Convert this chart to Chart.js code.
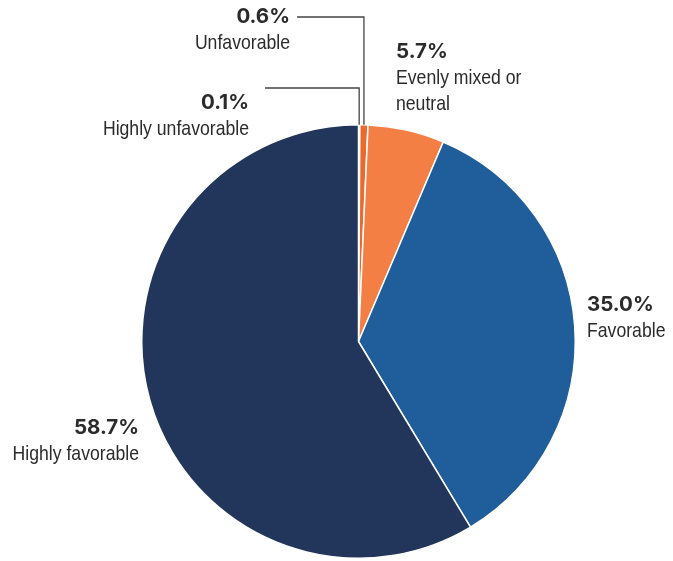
<!DOCTYPE html>
<html>
<head>
<meta charset="utf-8">
<script src="https://cdn.jsdelivr.net/npm/chart.js@4/dist/chart.umd.min.js"></script>
<style>
  html, body { margin: 0; padding: 0; background: #ffffff; }
  #wrap { width: 673px; height: 561px; position: relative; }
</style>
</head>
<body>
<div id="wrap"><canvas id="chart" width="673" height="561"></canvas></div>
<script>
// Sentiment shares, clockwise from 12 o'clock
const categories = ['Highly unfavorable', 'Unfavorable', 'Evenly mixed or neutral', 'Favorable', 'Highly favorable'];
const shares = [0.1, 0.6, 5.7, 35.0, 58.7];
const sliceColors = ['#e0469b', '#ea6a2e', '#f47f45', '#1f5e9b', '#22365c'];

// Label layout: value line + name lines, anchor and alignment
const labelLayout = [
  { x: 249, y: 103, align: 'right', lines: ['Highly unfavorable'], leaderY: 88, leaderEndX: 265 },
  { x: 290, y: 17,  align: 'right', lines: ['Unfavorable'], leaderY: 17, leaderEndX: 297 },
  { x: 396, y: 52,  align: 'left',  lines: ['Evenly mixed or', 'neutral'] },
  { x: 587, y: 305, align: 'left',  lines: ['Favorable'] },
  { x: 139, y: 428, align: 'right', lines: ['Highly favorable'] }
];

const VALUE_FONT = 'bold 20.5px Inter, "Liberation Sans", sans-serif';
const NAME_FONT = '21px "Liberation Sans", Arial, sans-serif';
const NAME_CONDENSE = 0.84;   // horizontal squeeze for the narrow label face
const TEXT_COLOR = '#2b2b2b';

function condensedText(ctx, text, x, y, k) {
  ctx.save();
  ctx.translate(x, y);
  ctx.scale(k, 1);
  ctx.fillText(text, 0, 0);
  ctx.restore();
}

const labelPlugin = {
  id: 'sliceLabels',
  afterDraw(chart) {
    const ctx = chart.ctx;
    const meta = chart.getDatasetMeta(0);
    ctx.save();
    labelLayout.forEach((lab, i) => {
      const arc = meta.data[i];
      // leader lines for the thin slices
      if (lab.leaderY !== undefined) {
        const p = arc.getProps(['x', 'y', 'startAngle', 'endAngle', 'outerRadius'], true);
        const mid = (p.startAngle + p.endAngle) / 2;
        const px = p.x + Math.cos(mid) * p.outerRadius;
        const py = p.y + Math.sin(mid) * p.outerRadius;
        ctx.strokeStyle = '#444444';
        ctx.lineWidth = 1.3;
        ctx.beginPath();
        ctx.moveTo(px, py);
        ctx.lineTo(px, lab.leaderY);
        ctx.lineTo(lab.leaderEndX, lab.leaderY);
        ctx.stroke();
      }
      ctx.fillStyle = TEXT_COLOR;
      ctx.textAlign = lab.align;
      ctx.textBaseline = 'middle';
      ctx.font = VALUE_FONT;
      ctx.fillText(shares[i].toFixed(1) + '%', lab.x, lab.y);
      ctx.font = NAME_FONT;
      lab.lines.forEach((ln, k) => {
        condensedText(ctx, ln, lab.x, lab.y + 26 + k * 26, NAME_CONDENSE);
      });
    });
    ctx.restore();
  }
};

new Chart(document.getElementById('chart'), {
  type: 'pie',
  data: {
    labels: categories,
    datasets: [{
      data: shares,
      backgroundColor: sliceColors,
      borderColor: '#ffffff',
      borderWidth: 1.5
    }]
  },
  options: {
    responsive: false,
    animation: false,
    layout: { padding: { left: 141, right: 97, top: 124, bottom: 2 } },
    plugins: {
      legend: { display: false },
      tooltip: { enabled: false }
    }
  },
  plugins: [labelPlugin]
});
</script>
</body>
</html>
